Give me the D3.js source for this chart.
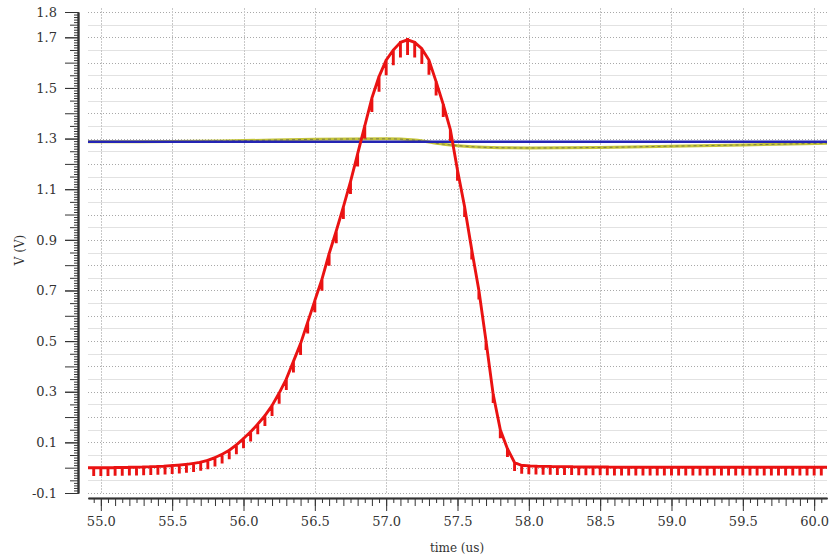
<!DOCTYPE html>
<html>
<head>
<meta charset="utf-8">
<script src="https://cdn.jsdelivr.net/npm/d3@7"></script>
<style>
  body { margin: 0; background: #fff; }
  svg text { font-family: "DejaVu Serif", serif; fill: #333; }
</style>
</head>
<body>
<div id="chart"></div>
<script>
// transient sim, sample step 50ns
var tStart = 54.95;
var tStep = 0.05;

// red node: smooth pulse value at each sample (V)
var redV = [
  0.000, 0.000, 0.000, 0.001, 0.001, 0.002, 0.002, 0.003, 0.004, 0.005,
  0.006, 0.008, 0.010, 0.013, 0.017, 0.022, 0.029, 0.040, 0.053, 0.069,
  0.090, 0.115, 0.142, 0.172, 0.205, 0.245, 0.295, 0.350, 0.420, 0.490,
  0.575, 0.660, 0.745, 0.845, 0.935, 1.030, 1.130, 1.240, 1.350, 1.460,
  1.545, 1.610, 1.650, 1.680, 1.690, 1.680, 1.655, 1.610, 1.525, 1.435,
  1.335, 1.175, 1.030, 0.860, 0.700, 0.500, 0.290, 0.150, 0.075, 0.020,
  0.009, 0.007, 0.006, 0.005, 0.005, 0.004, 0.004, 0.004, 0.003, 0.003,
  0.003, 0.003, 0.003, 0.002, 0.002, 0.002, 0.002, 0.002, 0.002, 0.002,
  0.002, 0.002, 0.002, 0.002, 0.002, 0.002, 0.002, 0.002, 0.002, 0.002,
  0.002, 0.002, 0.002, 0.002, 0.002, 0.002, 0.002, 0.002, 0.002, 0.002,
  0.002, 0.002, 0.002
];
// glitch depth at each sample (V)
var redDip = [
  0.033, 0.033, 0.033, 0.033, 0.033, 0.033, 0.033, 0.033, 0.033, 0.033,
  0.033, 0.033, 0.033, 0.033, 0.034, 0.034, 0.035, 0.035, 0.036, 0.036,
  0.037, 0.038, 0.039, 0.040, 0.040, 0.041, 0.042, 0.043, 0.044, 0.045,
  0.045, 0.046, 0.046, 0.047, 0.048, 0.048, 0.049, 0.050, 0.050, 0.055,
  0.060, 0.060, 0.060, 0.060, 0.060, 0.060, 0.060, 0.058, 0.055, 0.050,
  0.045, 0.042, 0.040, 0.038, 0.036, 0.035, 0.034, 0.034, 0.033, 0.033,
  0.033, 0.033, 0.033, 0.033, 0.033, 0.033, 0.033, 0.033, 0.033, 0.033,
  0.033, 0.033, 0.033, 0.033, 0.033, 0.033, 0.033, 0.033, 0.033, 0.033,
  0.033, 0.033, 0.033, 0.033, 0.033, 0.033, 0.033, 0.033, 0.033, 0.033,
  0.033, 0.033, 0.033, 0.033, 0.033, 0.033, 0.033, 0.033, 0.033, 0.033,
  0.033, 0.033, 0.033
];

// blue node is flat
var blueT = [54.91, 60.09];
var blueV = [1.287, 1.287];

// olive node drifts a little around the pulse
var oliveT = [54.91, 55.5, 56.0, 56.5, 57.0, 57.2, 57.4, 57.6, 57.8, 58.0, 58.5, 59.0, 59.5, 60.09];
var oliveV = [1.287, 1.288, 1.292, 1.297, 1.299, 1.294, 1.278, 1.268, 1.264, 1.263, 1.265, 1.270, 1.275, 1.282];

var xTickLabels = ['55.0', '55.5', '56.0', '56.5', '57.0', '57.5', '58.0', '58.5', '59.0', '59.5', '60.0'];
var yTickLabels = ['1.8', '1.7', '1.5', '1.3', '1.1', '0.9', '0.7', '0.5', '0.3', '0.1', '-0.1'];

var width = 832, height = 558;
var svg = d3.select('#chart').append('svg')
  .attr('width', width).attr('height', height);

var x = d3.scaleLinear().domain([54.91, 60.09]).range([88, 827]);
var y = d3.scaleLinear().domain([-0.1, 1.8]).range([493, 12]);

// grid
var g = svg.append('g');
var hMinor = d3.range(-2, 37).map(function(i){ return i * 0.05; }).filter(function(v, i){ return i % 2 === 1; });
var hMajor = d3.range(-1, 19).map(function(i){ return i / 10; });
g.selectAll('.hmin').data(hMinor).enter().append('line')
  .attr('x1', 88).attr('x2', 827)
  .attr('y1', function(d){ return Math.round(y(d)) + 0.5; })
  .attr('y2', function(d){ return Math.round(y(d)) + 0.5; })
  .attr('stroke', '#e2e2e2').attr('stroke-width', 1);
g.selectAll('.hmaj').data(hMajor).enter().append('line')
  .attr('x1', 88).attr('x2', 827)
  .attr('y1', function(d){ return Math.round(y(d)) + 0.5; })
  .attr('y2', function(d){ return Math.round(y(d)) + 0.5; })
  .attr('stroke', '#a8a8a8').attr('stroke-width', 1).attr('stroke-dasharray', '1,2');
g.selectAll('.vgrid').data(xTickLabels).enter().append('line')
  .attr('x1', function(d){ return Math.round(x(+d)) + 0.5; })
  .attr('x2', function(d){ return Math.round(x(+d)) + 0.5; })
  .attr('y1', 8).attr('y2', 493)
  .attr('stroke', '#c8c8c8').attr('stroke-width', 1).attr('stroke-dasharray', '2,1');

// traces
var line = d3.line().x(function(d){ return x(d[0]); }).y(function(d){ return y(d[1]); });

var oliveData = oliveT.map(function(t, i){ return [t, oliveV[i]]; });
var blueData = blueT.map(function(t, i){ return [t, blueV[i]]; });

svg.append('path').datum(oliveData)
  .attr('d', line.curve(d3.curveMonotoneX))
  .attr('fill', 'none').attr('stroke', '#c4c43a').attr('stroke-width', 3);
svg.append('path').datum(oliveData)
  .attr('d', line)
  .attr('fill', 'none').attr('stroke', '#7d7d4a').attr('stroke-width', 1)
  .attr('stroke-dasharray', '3,3');
line.curve(d3.curveLinear);
svg.append('path').datum(blueData)
  .attr('d', line)
  .attr('fill', 'none').attr('stroke', '#2424b4').attr('stroke-width', 2.5);

// red: pulse with a glitch at every timestep
var redPts = [[54.91, redV[0]]];
redV.forEach(function(v, i){
  var t = tStart + i * tStep;
  redPts.push([t, v], [t, v - redDip[i]], [t, v]);
});
redPts.push([60.09, redV[redV.length - 1]]);
svg.append('path').datum(redPts)
  .attr('d', line)
  .attr('fill', 'none').attr('stroke', '#ea1212').attr('stroke-width', 2.9)
  .attr('stroke-linejoin', 'miter').attr('stroke-miterlimit', 2);

// y axis
var yAx = svg.append('g').attr('transform', 'translate(78,0)');
var yMinor = d3.range(-10, 181).map(function(i){ return i / 100; });
yAx.append('g').call(d3.axisLeft(y).tickValues(yMinor.filter(function(d, i){ return i % 5 !== 0; }))
  .tickSize(4).tickSizeOuter(0).tickFormat(''));
yAx.append('g').call(d3.axisLeft(y).tickValues(yMinor.filter(function(d, i){ return i % 5 === 0 && i % 10 !== 0; }))
  .tickSize(8).tickSizeOuter(0).tickFormat(''));
yAx.append('g').call(d3.axisLeft(y).tickValues(hMajor)
  .tickSize(13).tickSizeOuter(0).tickFormat(''));
yAx.append('g').call(d3.axisLeft(y).tickValues(yTickLabels.map(Number))
  .tickSize(13).tickSizeOuter(0).tickPadding(8)
  .tickFormat(function(d){ return yTickLabels[yTickLabels.map(Number).indexOf(d)]; }));

// x axis
var xAx = svg.append('g').attr('transform', 'translate(0,498)');
var xMinor = d3.range(1099, 1202).map(function(i){ return i / 20; });
xAx.append('g').call(d3.axisBottom(x).tickValues(xMinor.filter(function(d, i){ return i % 2 === 0; }))
  .tickSize(5).tickSizeOuter(0).tickFormat(''));
xAx.append('g').call(d3.axisBottom(x).tickValues(xMinor.filter(function(d, i){ return i % 2 === 1; }))
  .tickSize(8).tickSizeOuter(0).tickFormat(''));
xAx.append('g').call(d3.axisBottom(x).tickValues(xTickLabels.map(Number))
  .tickSize(13).tickSizeOuter(0).tickPadding(6)
  .tickFormat(function(d){ return d.toFixed(1); }));

svg.selectAll('.domain').attr('stroke', '#333').attr('stroke-width', 1.5);
svg.selectAll('.tick line').attr('stroke', '#333');
svg.selectAll('.tick text').attr('font-size', 13).attr('font-family', 'DejaVu Serif').attr('fill', '#2a2a2a');

// titles
svg.append('text').attr('x', 457).attr('y', 552).attr('text-anchor', 'middle')
  .attr('font-size', 12).text('time (us)');
svg.append('text').attr('transform', 'translate(24,250) rotate(-90)').attr('text-anchor', 'middle')
  .attr('font-size', 12).text('V (V)');
</script>
</body>
</html>
